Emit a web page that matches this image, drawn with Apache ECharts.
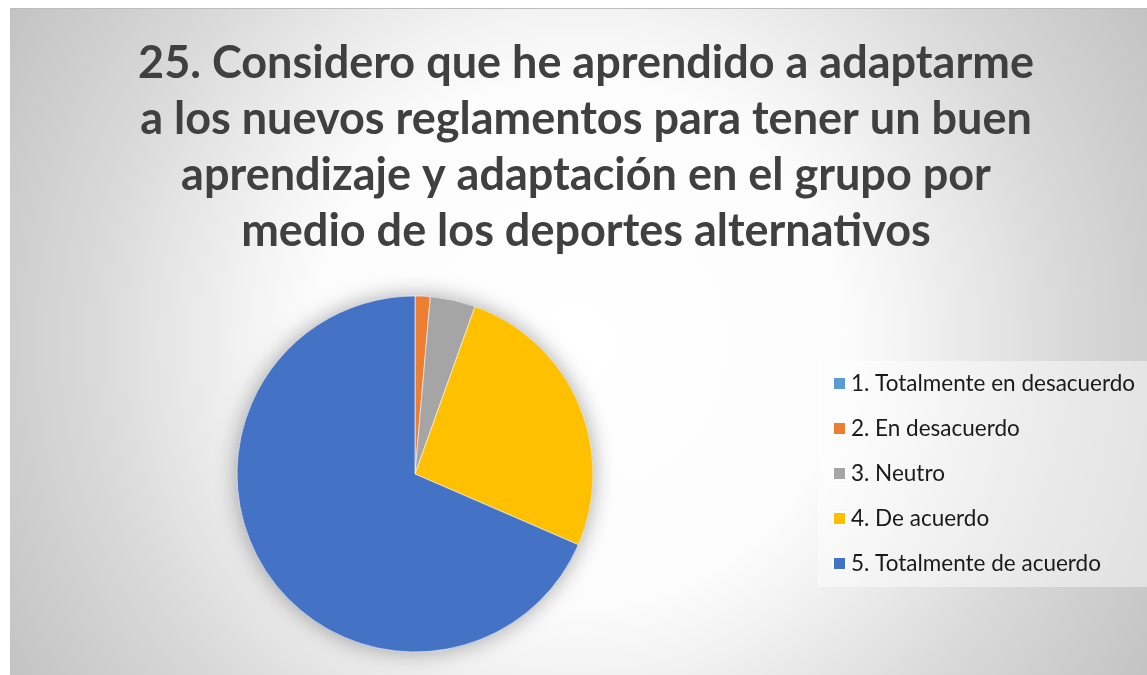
<!DOCTYPE html>
<html>
<head>
<meta charset="utf-8">
<style>
  html, body { margin: 0; padding: 0; background: #ffffff; }
  #chart {
    position: absolute;
    left: 10px;
    top: 8px;
    width: 1137px;
    height: 667px;
    box-sizing: border-box;
    border-top: 1px solid #bdbdbd;
  }
</style>
<script src="https://cdn.jsdelivr.net/npm/echarts@6/dist/echarts.min.js"></script>
</head>
<body>
<div id="chart"></div>
<script>
// Survey item 25 — answer counts per Likert option
const titleLines = [
  '25. Considero que he aprendido a adaptarme',
  'a los nuevos reglamentos para tener un buen',
  'aprendizaje y adaptación en el grupo por',
  'medio de los deportes alternativos'
];
const categories = [
  '1. Totalmente en desacuerdo',
  '2. En desacuerdo',
  '3. Neutro',
  '4. De acuerdo',
  '5. Totalmente de acuerdo'
];
const counts = [0, 1, 3, 19, 50];
const sliceColors = ['#5B9BD5', '#ED7D31', '#A5A5A5', '#FFC000', '#4472C4'];

const total = counts.reduce((a, b) => a + b, 0);
const pieCenter = [405, 465];
const pieRadius = 178;

const chart = echarts.init(document.getElementById('chart'));
chart.setOption({
  backgroundColor: new echarts.graphic.RadialGradient(0.5, 0.5, 0.99, [
    { offset: 0, color: '#ffffff' },
    { offset: 0.4, color: '#fcfcfc' },
    { offset: 0.5, color: '#f3f3f3' },
    { offset: 0.75, color: '#d8d8d8' },
    { offset: 1, color: '#c3c3c3' }
  ]),
  animation: false,
  title: {
    text: titleLines.join('\n'),
    left: 571,
    top: 21,
    textAlign: 'center',
    textStyle: {
      fontFamily: 'Lato',
      fontSize: 45,
      fontWeight: 'bold',
      color: '#404040',
      lineHeight: 56
    }
  },
  legend: {
    orient: 'vertical',
    left: 808,
    top: 352,
    padding: [11, 40, 12, 14],
    backgroundColor: 'rgba(255,255,255,0.45)',
    icon: 'rect',
    itemWidth: 13,
    itemHeight: 13,
    itemGap: 22,
    selectedMode: false,
    data: categories,
    textStyle: {
      fontFamily: 'Lato',
      fontSize: 22.5,
      lineHeight: 23,
      color: '#1a1a1a'
    }
  },
  series: [
    {
      // soft drop shadow under the pie
      type: 'pie',
      silent: true,
      center: pieCenter,
      radius: pieRadius,
      label: { show: false },
      itemStyle: {
        color: '#4472C4',
        shadowBlur: 22,
        shadowColor: 'rgba(0,0,0,0.35)'
      },
      data: [{ name: 'total', value: total }]
    },
    {
      type: 'pie',
      center: pieCenter,
      radius: pieRadius,
      startAngle: 90,
      clockwise: true,
      label: { show: false },
      labelLine: { show: false },
      emphasis: { disabled: true },
      itemStyle: {
        borderColor: '#ffffff',
        borderWidth: 0.6
      },
      data: categories.map((name, i) => ({
        name: name,
        value: counts[i],
        itemStyle: { color: sliceColors[i] }
      }))
    }
  ]
});
</script>
</body>
</html>
